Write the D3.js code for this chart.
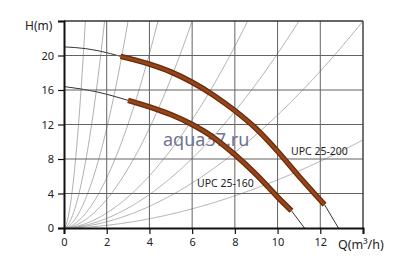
<!DOCTYPE html>
<html>
<head>
<meta charset="utf-8">
<script src="https://cdn.jsdelivr.net/npm/d3@7"></script>
<style>
body { margin: 0; background: #fff; }
svg { display: block; }
text { font-family: "Noto Sans", sans-serif; fill: #222; }
</style>
</head>
<body>
<div id="chart"></div>
<script>
// axis ticks
var xTicks = [0, 2, 4, 6, 8, 10, 12];
var yTicks = [0, 4, 8, 12, 16, 20];

// system curves, flow Q where each curve reaches H = 24 m
var sysTopQ = [1.0, 1.9, 3.0, 4.4, 6.0, 8.6, 11.0, 14.0, 22.5];
var sysExp = 1.8;

// pump UPC 25-200 [Q, H]
var upc200Start = [[0, 21.0], [1, 20.8], [1.7, 20.5], [2.65, 19.9]];
var upc200Main = [[2.65, 19.9], [4, 19.0], [5, 18.1], [6, 16.9], [7, 15.4], [8, 13.6], [9, 11.5], [10, 8.9], [11, 6.0], [12.2, 2.7]];
var upc200End = [[12.2, 2.7], [12.85, 0]];

// pump UPC 25-160 [Q, H]
var upc160Start = [[0, 16.4], [1.5, 15.8], [3.0, 14.8]];
var upc160Main = [[3.0, 14.8], [4, 14.05], [5, 13.15], [6, 12.0], [7, 10.5], [8, 8.5], [9, 6.2], [10, 3.6], [10.65, 2.0]];
var upc160End = [[10.65, 2.0], [11.26, 0]];

var W = 400, H = 276;
var svg = d3.select("#chart").append("svg").attr("width", W).attr("height", H);

var x = d3.scaleLinear().domain([0, 14]).range([64, 363]);
var y = d3.scaleLinear().domain([0, 24]).range([228, 21]);

svg.append("clipPath").attr("id", "plotClip")
    .append("rect").attr("x", x(0)).attr("y", y(24))
    .attr("width", x(14) - x(0)).attr("height", y(0) - y(24));

var plot = svg.append("g").attr("clip-path", "url(#plotClip)");

// system curves
var sysLine = d3.line().x(function (d) { return x(d[0]); }).y(function (d) { return y(d[1]); });
sysTopQ.forEach(function (qt) {
    var pts = d3.range(0, 14.01, 0.05).map(function (q) {
        return [q, 24 * Math.pow(q / qt, sysExp)];
    });
    plot.append("path").attr("d", sysLine(pts))
        .style("fill", "none").style("stroke", "#9c9c9c").style("stroke-width", 0.8);
});

// grid
var gx = [2, 4, 6, 8, 10, 12];
var gy = [4, 8, 12, 16, 20];
svg.selectAll(".gx").data(gx).enter().append("line").attr("class", "gx")
    .attr("x1", function (d) { return x(d); }).attr("x2", function (d) { return x(d); })
    .attr("y1", y(0)).attr("y2", y(24))
    .style("stroke", "#626262").style("stroke-width", 1);
svg.selectAll(".gy").data(gy).enter().append("line").attr("class", "gy")
    .attr("y1", function (d) { return y(d); }).attr("y2", function (d) { return y(d); })
    .attr("x1", x(0)).attr("x2", x(14))
    .style("stroke", "#626262").style("stroke-width", 1);

// watermark
svg.append("text").attr("x", 163).attr("y", 146)
    .style("font-size", "18px").style("fill", "#707392").text("aqua37.ru");

// pump curves
var pumpLine = d3.line().curve(d3.curveMonotoneX)
    .x(function (d) { return x(d[0]); }).y(function (d) { return y(d[1]); });

[upc200Start, upc200End, upc160Start, upc160End].forEach(function (s) {
    plot.append("path").attr("d", pumpLine(s))
        .style("fill", "none").style("stroke", "#333").style("stroke-width", 1);
});
[upc200Main, upc160Main].forEach(function (s) {
    svg.append("path").attr("d", pumpLine(s))
        .style("fill", "none").style("stroke", "#6a2a0a").style("stroke-width", 5.5);
    svg.append("path").attr("d", pumpLine(s))
        .style("fill", "none").style("stroke", "#94451a").style("stroke-width", 3);
});

// border
svg.append("line").attr("x1", x(0)).attr("x2", x(14)).attr("y1", y(24)).attr("y2", y(24))
    .style("stroke", "#333").style("stroke-width", 1.5);
svg.append("line").attr("x1", x(14)).attr("x2", x(14)).attr("y1", y(24)).attr("y2", y(0))
    .style("stroke", "#444").style("stroke-width", 1.5);

// axes
var xAxis = svg.append("g").attr("transform", "translate(0," + y(0) + ")")
    .call(d3.axisBottom(x).tickValues([0, 2, 4, 6, 8, 10, 12, 14]).tickSize(6)
        .tickFormat(function (d) { return xTicks.indexOf(d) >= 0 ? d : ""; }));
var yAxis = svg.append("g").attr("transform", "translate(" + x(0) + ",0)")
    .call(d3.axisLeft(y).tickValues([0, 4, 8, 12, 16, 20, 24]).tickSize(6)
        .tickFormat(function (d) { return yTicks.indexOf(d) >= 0 ? d : ""; }));
[xAxis, yAxis].forEach(function (a) {
    a.select(".domain").style("stroke", "#111").style("stroke-width", 2);
    a.selectAll(".tick line").style("stroke", "#111").style("stroke-width", 1.2);
    a.selectAll(".tick text").style("font-family", "Noto Sans").style("font-size", "11px").style("fill", "#222");
});
xAxis.selectAll(".tick text").attr("y", 10);
yAxis.selectAll(".tick text").attr("x", -10);

svg.append("text").attr("x", 25).attr("y", 30).style("font-size", "12px").text("H(m)");
svg.append("text").attr("x", 338).attr("y", 249).style("font-size", "12.5px").text("Q(m³/h)");

svg.append("text").attr("x", 291).attr("y", 155).style("font-size", "10.5px").text("UPC 25-200");
svg.append("text").attr("x", 197).attr("y", 187).style("font-size", "10.5px").text("UPC 25-160");
</script>
</body>
</html>
